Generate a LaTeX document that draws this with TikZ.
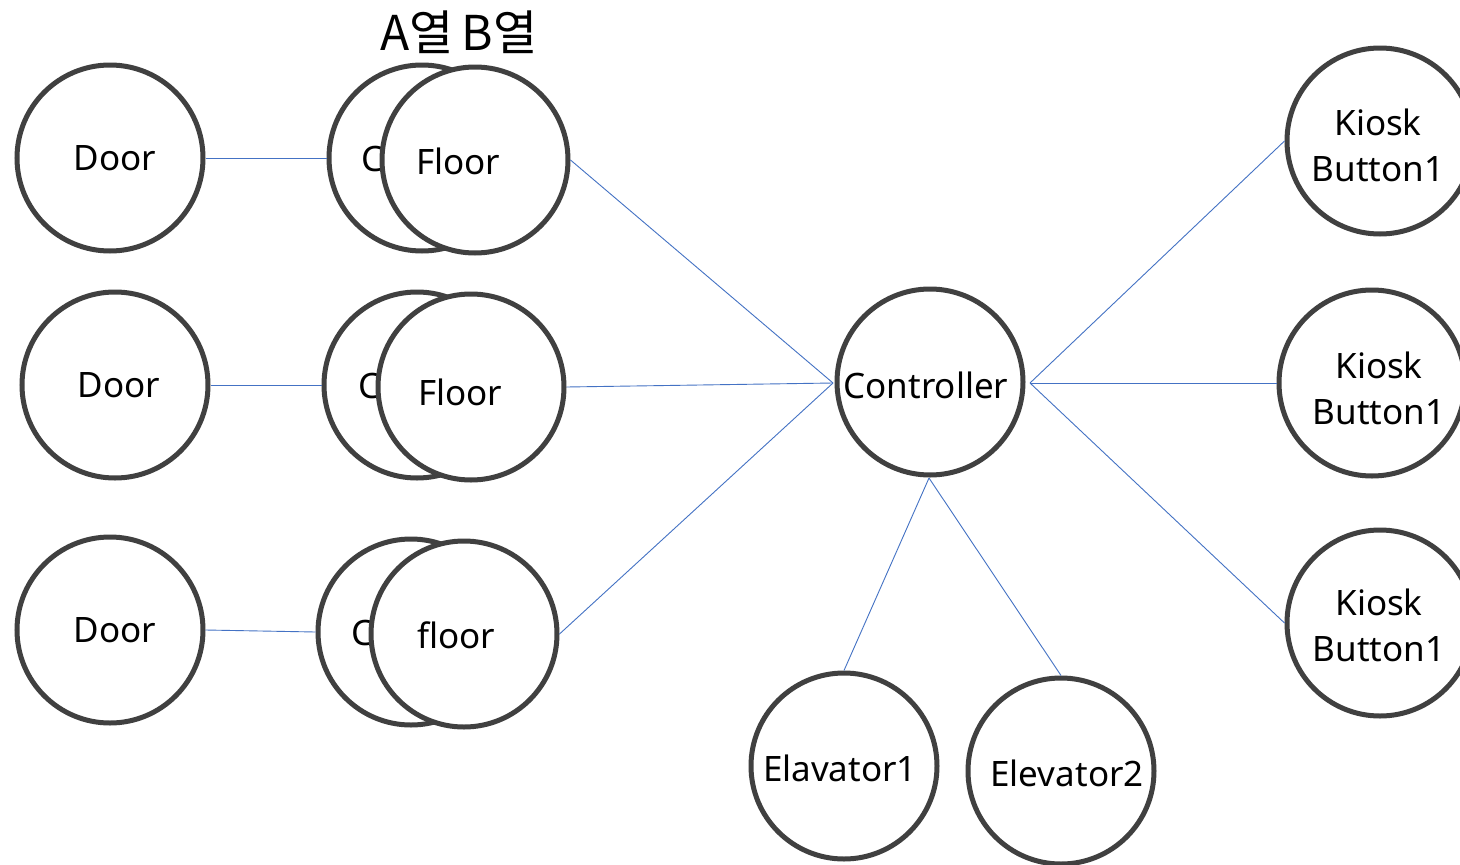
\documentclass[tikz,border=0pt]{standalone}
\usepackage{fontspec}
\setmainfont{Noto Sans}
\newfontfamily\krfont{Noto Sans CJK KR}
\begin{document}
\begin{tikzpicture}[x=1pt,y=-1pt,
  ent/.style={circle,draw=black!75,line width=5pt,fill=white,minimum size=186pt,inner sep=0pt},
  lbl/.style={align=center,inner sep=0pt,font=\fontsize{35}{46}\selectfont},
  link/.style={draw={rgb,255:red,68;green,114;blue,196},line width=0.9pt}]
\useasboundingbox (0,0) rectangle (1460,865);
\fill[white] (0,0) rectangle (1460,865);

% column header
\node[font=\krfont\fontsize{48}{56}\selectfont,anchor=center] (hdr) at (459,32) {A열\,B열};

% doors
\node[ent] (d1) at (110,158) {};
\node[lbl] (d1t) at (115,158) {Door};
\node[ent] (d2) at (115,385) {};
\node[lbl] (d2t) at (119,385) {Door};
\node[ent] (d3) at (110,630) {};
\node[lbl] (d3t) at (115,630) {Door};

% back circles (A)
\node[ent] (a1) at (422,158) {};
\node[ent] (a2) at (417,385) {};
\node[ent] (a3) at (411,632) {};
\node[lbl,anchor=west] (c1) at (361,159) {C};
\node[lbl,anchor=west] (c2) at (358,386) {C};
\node[lbl,anchor=west] (c3) at (351,633) {C};

% front circles (B)
\node[ent] (f1) at (475,160) {};
\node[lbl] (f1t) at (458,161) {Floor};
\node[ent] (f2) at (471,387) {};
\node[lbl] (f2t) at (460,392) {Floor};
\node[ent] (f3) at (464,634) {};
\node[lbl] (f3t) at (456,635) {floor};

% controller and its connection points
\node[ent] (ctl) at (930,382) {};
\node[lbl] (ctlt) at (926,385) {Controller};
\coordinate (cl) at (833,383);
\coordinate (cr) at (1030,383);
\coordinate (cb) at (929,478);

% kiosk buttons
\node[ent] (k1) at (1380,141) {};
\node[lbl] (k1t) at (1378,145) {Kiosk\\Button1};
\node[ent] (k2) at (1372,383) {};
\node[lbl] (k2t) at (1379,388) {Kiosk\\Button1};
\node[ent] (k3) at (1380,623) {};
\node[lbl] (k3t) at (1379,625) {Kiosk\\Button1};

% elevators
\node[ent] (e1) at (844,766) {};
\node[lbl] (e1t) at (840,768) {Elavator1};
\node[ent] (e2) at (1061,771) {};
\node[lbl] (e2t) at (1067,773) {Elevator2};

% connectors
\draw[link] (d1.east) -- (a1.west);
\draw[link] (d2.east) -- (a2.west);
\draw[link] (d3.east) -- (a3.west);
\draw[link] (f1.east) -- (cl);
\draw[link] (f2.east) -- (cl);
\draw[link] (f3.east) -- (cl);
\draw[link] (cr) -- (k1.west);
\draw[link] (cr) -- (k2.west);
\draw[link] (cr) -- (k3.west);
\draw[link] (cb) -- (e1.north);
\draw[link] (cb) -- (e2.north);
\end{tikzpicture}
\end{document}
